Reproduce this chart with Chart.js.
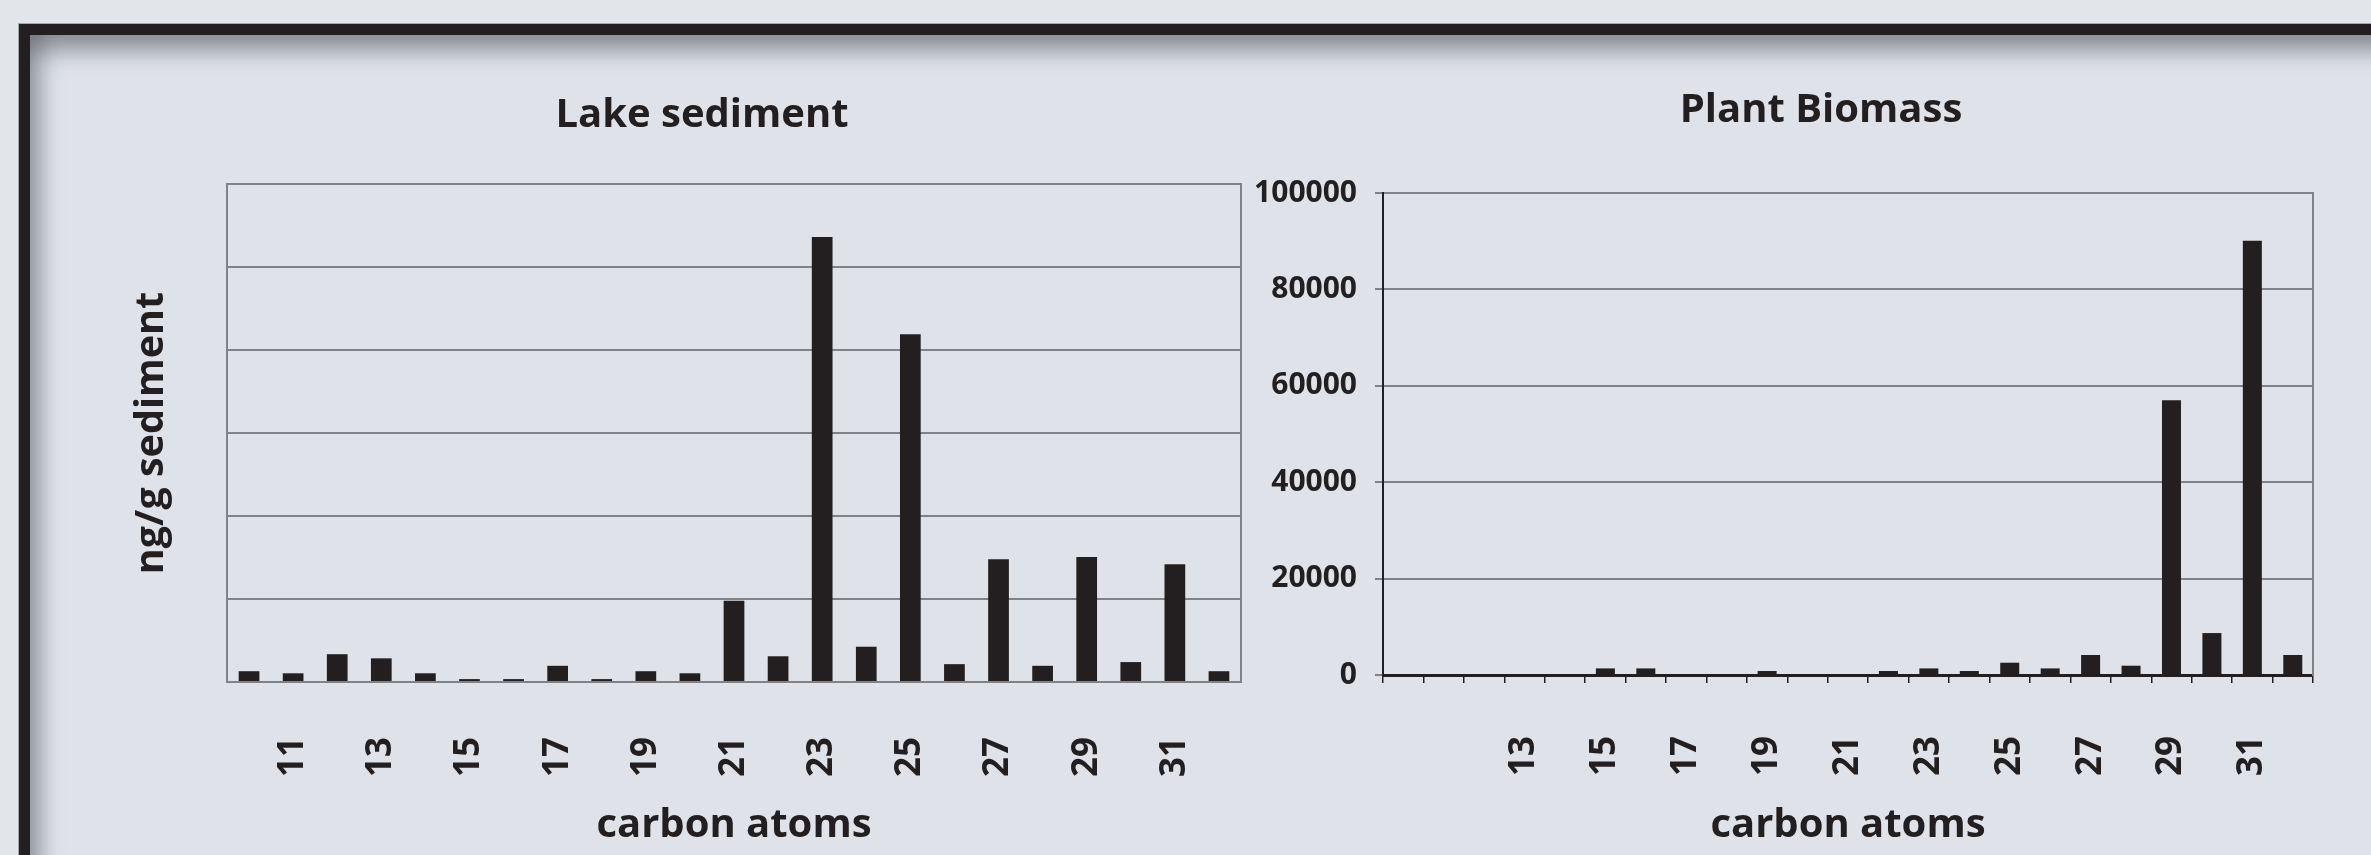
<!DOCTYPE html>
<html>
<head>
<meta charset="utf-8">
<title>n-alkanes: lake sediment vs plant biomass</title>
<script src="https://cdn.jsdelivr.net/npm/chart.js@4.4.1/dist/chart.umd.min.js"></script>
<style>
  html, body { margin: 0; padding: 0; }
  body { width: 2371px; height: 855px; overflow: hidden; position: relative; background: #e2e5ea; }
  #frame {
    position: absolute; left: 19px; top: 24px; width: 2420px; height: 900px;
    box-sizing: border-box;
    border-top: 11px solid #231f20; border-left: 11px solid #231f20;
    background: #dfe3e9;
    box-shadow: inset 0 28px 22px -12px rgba(88, 92, 100, 0.6),
                inset 22px 0 20px -10px rgba(88, 92, 100, 0.5),
                0 0 0 1px #a4a7ac;
  }
  canvas { position: absolute; }
  #lake { left: 60px; top: 60px; }
  #plant { left: 1230px; top: 60px; }
</style>
</head>
<body>
<div id="frame"></div>
<canvas id="lake" width="1261" height="795"></canvas>
<canvas id="plant" width="1163" height="795"></canvas>
<script>
// carbon chain length (n-alkanes C10 - C32)
const carbonAtoms = ['10', '11', '12', '13', '14', '15', '16', '17', '18', '19', '20', '21',
  '22', '23', '24', '25', '26', '27', '28', '29', '30', '31', '32'];

// ng/g sediment (unlabelled axis, 1 grid step = 1000)
const lakeSediment = [130, 105, 335, 285, 105, 35, 35, 195, 35, 130, 105, 980,
  310, 5360, 425, 4190, 215, 1480, 195, 1505, 240, 1420, 130];

const plantBiomass = [0, 0, 0, 0, 0, 1370, 1370, 0, 0, 830, 0, 0,
  830, 1370, 830, 2550, 1370, 4150, 1930, 57000, 8700, 90100, 4150];

const lakeGrid = [0, 1000, 2000, 3000, 4000, 5000, 6000];
const plantTicks = [0, 20000, 40000, 60000, 80000, 100000];

const INK = '#231f20';
const GRID = '#808285';

Chart.defaults.font.family = "'Open Sans', 'Liberation Sans', sans-serif";
Chart.defaults.color = INK;

function barDataset(values) {
  return {
    data: values,
    backgroundColor: INK,
    borderWidth: 0,
    barPercentage: 0.47,
    categoryPercentage: 1
  };
}

function xLabels(minLabel) {
  return (value, index) => {
    const n = Number(carbonAtoms[index]);
    return (n % 2 === 1 && n >= minLabel) ? carbonAtoms[index] : '';
  };
}

// invisible right-hand axis: only its border, used as the plot's right edge
function rightBorder(color, width) {
  return {
    position: 'right',
    display: true,
    grid: { display: false, drawTicks: false },
    ticks: { display: false },
    border: { display: true, color: color, width: 2 },
    afterFit: s => { s.width = width; }
  };
}

const xTitle = {
  display: true, text: 'carbon atoms', color: INK,
  font: { size: 40, weight: 'bold' }, padding: { top: 0, bottom: 5 }
};

const common = {
  responsive: false,
  animation: false,
  events: [],
  plugins: { legend: { display: false }, tooltip: { enabled: false } }
};

new Chart(document.getElementById('lake'), {
  type: 'bar',
  data: { labels: carbonAtoms, datasets: [barDataset(lakeSediment)] },
  options: {
    ...common,
    layout: { padding: { left: 103, right: 80, top: 0, bottom: 0 } },
    plugins: {
      ...common.plugins,
      title: {
        display: true, text: 'Lake sediment', color: INK,
        font: { size: 40, weight: 'bold' },
        padding: { top: 32, bottom: 44 }
      }
    },
    scales: {
      x: {
        grid: { display: false, drawTicks: false },
        border: { color: GRID, width: 2 },
        ticks: {
          autoSkip: false, minRotation: 90, maxRotation: 90, padding: 55,
          color: INK, font: { size: 35, weight: 'bold' },
          callback: xLabels(11)
        },
        title: xTitle,
        afterFit: s => { s.height = 173; }
      },
      y: {
        min: lakeGrid[0],
        max: lakeGrid[lakeGrid.length - 1],
        ticks: { display: false, stepSize: lakeGrid[1] - lakeGrid[0] },
        grid: { color: GRID, lineWidth: 2, drawTicks: false },
        border: { color: GRID, width: 2 },
        title: {
          display: true, text: 'ng/g sediment', color: INK,
          font: { size: 39.5, weight: 'bold' }, padding: { top: -35, bottom: 0 }
        },
        afterFit: s => { s.width = 64; }
      },
      yEdge: rightBorder(GRID, 0)
    }
  }
});

new Chart(document.getElementById('plant'), {
  type: 'bar',
  data: { labels: carbonAtoms, datasets: [barDataset(plantBiomass)] },
  options: {
    ...common,
    layout: { padding: { left: 25, right: 6, top: 0, bottom: 0 } },
    plugins: {
      ...common.plugins,
      title: {
        display: true, text: 'Plant Biomass', color: INK,
        font: { size: 40, weight: 'bold' },
        padding: { top: 27, bottom: 58 }
      }
    },
    scales: {
      x: {
        grid: { drawOnChartArea: false, drawTicks: true, tickLength: 8, color: INK, lineWidth: 1.5 },
        border: { color: INK, width: 3 },
        ticks: {
          autoSkip: false, minRotation: 90, maxRotation: 90, padding: 53,
          color: INK, font: { size: 35, weight: 'bold' },
          callback: xLabels(13)
        },
        title: xTitle,
        afterFit: s => { s.height = 180; }
      },
      y: {
        min: plantTicks[0],
        max: plantTicks[plantTicks.length - 1],
        ticks: {
          stepSize: plantTicks[1] - plantTicks[0], padding: 18,
          color: INK, font: { size: 30, weight: 'bold' },
          callback: v => String(v)
        },
        grid: { color: GRID, lineWidth: 2, tickLength: 8 },
        border: { color: INK, width: 2 },
        afterFit: s => { s.width = 128; }
      },
      yEdge: rightBorder(GRID, 74)
    }
  }
});
</script>
</body>
</html>
